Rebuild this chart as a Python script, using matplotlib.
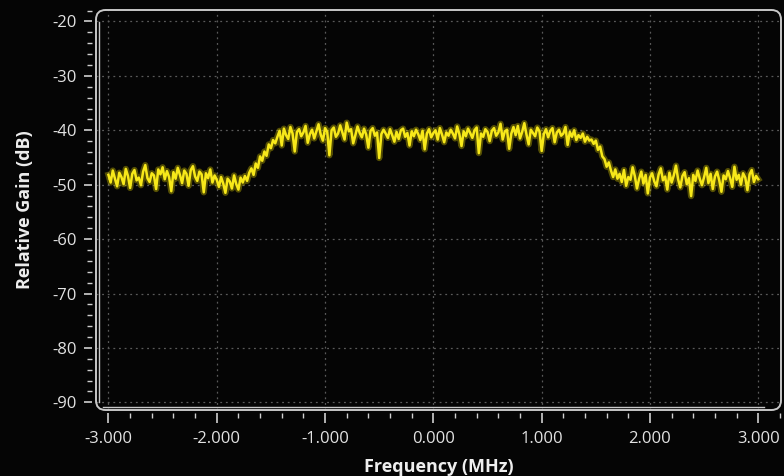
import numpy as np
import matplotlib
matplotlib.use("Agg")
import matplotlib.pyplot as plt
from matplotlib.patches import FancyBboxPatch
from matplotlib.ticker import MultipleLocator, FormatStrFormatter

# ---- data ----
freq_start = -3.0   # MHz
freq_stop = 3.0     # MHz

floor_left = [
    -48.2, -49.6, -47.4, -48.9, -50.3, -47.8, -48.6, -49.9, -47.1, -48.4,
    -50.6, -48.0, -47.3, -49.2, -48.7, -50.1, -47.6, -46.4, -48.8, -49.5,
    -47.9, -48.3, -50.8, -47.2, -48.1, -46.8, -49.0, -47.5, -48.6, -51.2,
    -47.7, -48.9, -46.9, -48.2, -49.7, -47.4, -48.0, -50.2, -47.3, -46.6,
    -48.5, -49.3, -47.6, -48.1, -51.4, -47.9, -48.8, -47.2, -49.6, -48.3,
]
dip_left = [-49.1, -50.4, -48.6, -49.8, -51.5, -48.9, -49.4, -50.7, -48.3,
            -49.9, -50.9, -48.7, -49.6]
rise = [-48.4, -49.3, -47.8, -47.0, -48.2, -46.1, -46.9, -44.8, -45.6,
        -43.9, -44.7, -42.6, -43.3, -41.8, -42.4]
plateau = [
    -41.2, -40.1, -42.8, -39.7, -40.9, -41.6, -39.4, -40.6, -43.9, -40.3,
    -39.8, -41.1, -40.4, -39.2, -42.3, -40.7, -39.9, -41.5, -40.2, -38.9,
    -40.8, -41.9, -39.6, -40.3, -44.6, -40.0, -39.5, -41.2, -40.6, -39.1,
    -40.4, -41.7, -38.6, -40.2, -39.8, -42.4, -40.9, -39.3, -40.5, -41.3,
    -39.7, -40.8, -43.2, -40.1, -39.6, -41.0, -40.4, -45.1, -40.7, -39.9,
    -40.6, -41.4, -39.8, -40.9, -42.1, -40.3, -41.6, -40.0, -39.7, -41.2,
    -40.5, -42.8, -40.2, -41.1, -39.9, -40.7, -41.8, -40.1, -43.5, -40.6,
    -39.8, -41.3, -40.5, -40.0, -41.7, -39.6, -40.8, -42.2, -40.4, -41.0,
    -39.9, -40.6, -41.5, -39.3, -40.7, -42.9, -40.2, -41.1, -39.7, -40.5,
    -41.4, -40.0, -39.5, -44.2, -40.6, -41.2, -39.8, -40.3, -42.0, -40.1,
    -39.6, -41.0, -40.4, -38.8, -41.7, -40.2, -39.9, -43.4, -40.6, -39.4,
    -40.9, -39.2, -41.5, -40.3, -38.7, -40.8, -42.6, -39.9, -40.5, -41.1,
    -39.5, -40.2, -43.8, -40.7, -39.8, -41.3, -40.1, -39.6, -42.2, -40.4,
    -39.9, -41.0, -40.6, -39.4, -42.7, -40.3, -41.2, -40.0, -41.8, -40.9,
    -41.4, -40.6, -42.1, -41.2, -41.9,
]
fall = [-41.7, -42.5, -41.9, -43.6, -43.0, -44.8, -45.3, -46.7, -45.9,
        -47.4, -48.6, -47.2, -48.9]
floor_right = [
    -48.0, -49.5, -47.3, -50.2, -48.6, -49.1, -46.8, -48.4, -50.7, -48.9,
    -47.6, -49.8, -48.2, -51.6, -48.7, -47.9, -49.4, -50.3, -48.1, -47.0,
    -49.2, -48.5, -50.9, -47.8, -49.6, -48.3, -46.5, -49.0, -50.5, -48.4,
    -47.7, -49.9, -48.8, -52.1, -48.2, -49.3, -47.4, -48.9, -50.1, -48.6,
    -46.9, -49.7, -48.0, -50.8, -48.5, -47.6, -49.2, -51.3, -48.3, -49.0,
    -47.5, -48.8, -50.4, -46.7, -49.1, -48.2, -50.0, -47.9, -48.7, -51.0,
    -48.1, -47.3, -49.5, -48.4, -49.0,
]

gain_db = np.array(floor_left + dip_left + rise + plateau + fall + floor_right)
freq_mhz = np.linspace(freq_start, freq_stop, len(gain_db))

x_ticks = [-3, -2, -1, 0, 1, 2, 3]
y_ticks = [-90, -80, -70, -60, -50, -40, -30, -20]

# ---- style ----
W, H = 784, 476
fig = plt.figure(figsize=(W / 100, H / 100), dpi=100, facecolor="#050505")
left_px, right_px, top_px, bot_px = 96, 781, 10, 410
ax = fig.add_axes([left_px / W, 1 - bot_px / H,
                   (right_px - left_px) / W, (bot_px - top_px) / H])
ax.set_facecolor("#050505")

ax.set_xlim(-3.115, 3.21)
ax.set_ylim(-91.4, -17.9)

grid_c = "#5a5a5a"
for xv in x_ticks:
    ax.axvline(xv, color=grid_c, lw=0.9, ls=(0, (1.5, 3)), zorder=1)
for yv in y_ticks:
    ax.axhline(yv, color=grid_c, lw=0.9, ls=(0, (1.5, 3)), zorder=1)

# trace with soft glow
ax.plot(freq_mhz, gain_db, color="#e8d800", lw=4.5, alpha=0.35, zorder=2)
ax.plot(freq_mhz, gain_db, color="#f7e81a", lw=1.8, zorder=3)

# rounded frame
frame_c = "#c8c8c8"
frame = FancyBboxPatch((0.0, 0.0), 1.0, 1.0,
                       boxstyle="round,pad=0,rounding_size=0.014",
                       transform=ax.transAxes, fill=False,
                       edgecolor=frame_c, lw=1.4, clip_on=False, zorder=5,
                       mutation_aspect=(right_px - left_px) / (bot_px - top_px))
ax.add_patch(frame)
# inner double lines (bottom & left)
ax.plot([0.01, 0.975], [0.008, 0.008], transform=ax.transAxes,
        color=frame_c, lw=1.0, clip_on=False, zorder=5)
ax.plot([0.005, 0.005], [0.02, 0.97], transform=ax.transAxes,
        color=frame_c, lw=1.0, clip_on=False, zorder=5)

for s in ax.spines.values():
    s.set_visible(False)
ax.spines["left"].set_position(("outward", 3))
ax.spines["bottom"].set_position(("outward", 2))

ax.set_xticks(x_ticks)
ax.set_yticks(y_ticks)
ax.xaxis.set_minor_locator(MultipleLocator(0.2))
ax.yaxis.set_minor_locator(MultipleLocator(2))
ax.xaxis.set_major_formatter(FormatStrFormatter("%.3f"))
ax.yaxis.set_major_formatter(FormatStrFormatter("%d"))

tick_c = "#d0d0d0"
ax.tick_params(axis="both", which="major", direction="out", color=tick_c,
               labelcolor="#e2e2e2", width=1.2)
ax.tick_params(axis="x", which="major", length=7, pad=6)
ax.tick_params(axis="y", which="major", length=6, pad=5)
ax.tick_params(axis="both", which="minor", direction="out", color=tick_c,
               width=1.0, length=3.5)
for lab in ax.get_xticklabels() + ax.get_yticklabels():
    lab.set_fontfamily("Open Sans")
    lab.set_fontsize(12)

ax.set_xlabel("Frequency (MHz)", family="Open Sans", fontweight="bold",
              fontsize=13, color="#eeeeee", labelpad=8)
ax.set_ylabel("Relative Gain (dB)", family="Open Sans", fontweight="bold",
              fontsize=13, color="#eeeeee", labelpad=13)

fig.savefig("out.png", dpi=100, facecolor=fig.get_facecolor())
